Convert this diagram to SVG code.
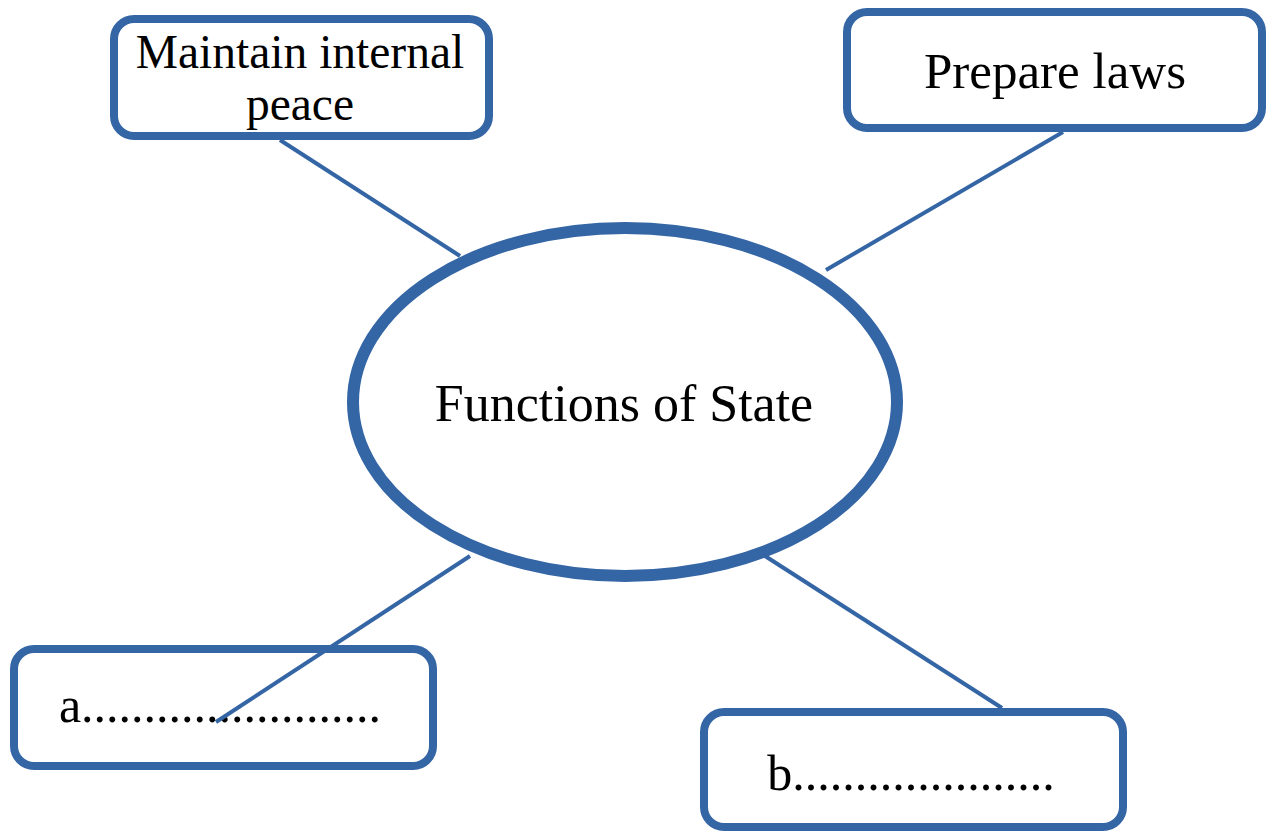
<svg xmlns="http://www.w3.org/2000/svg" width="1267" height="831" viewBox="0 0 1267 831">
  <style>
    .box { fill: #ffffff; stroke: #3465a4; stroke-width: 8; }
    .hub { fill: #ffffff; stroke: #3465a4; stroke-width: 12; }
    .link { stroke: #3465a4; stroke-width: 4; fill: none; }
    .lbl { font-family: "Liberation Serif", "Times New Roman", serif; fill: #000000; text-anchor: middle; }
  </style>
  <rect width="1267" height="831" fill="#ffffff"/>

  <!-- central topic -->
  <g id="hub">
    <ellipse class="hub" cx="625" cy="402" rx="272" ry="174"/>
    <text class="lbl" x="624" y="421" font-size="52">Functions of State</text>
  </g>

  <!-- spokes -->
  <g id="connectors">
    <line class="link" x1="280" y1="140" x2="460" y2="256"/>
    <line class="link" x1="1063" y1="132" x2="826" y2="270"/>
    <line class="link" x1="765" y1="556" x2="1002" y2="708"/>
  </g>

  <g id="node-peace">
    <rect class="box" x="114" y="19" width="375" height="117" rx="20"/>
    <text class="lbl" x="300" y="68" font-size="47.5">Maintain internal</text>
    <text class="lbl" x="300" y="120" font-size="47.5">peace</text>
  </g>

  <g id="node-laws">
    <rect class="box" x="847" y="12" width="415" height="116" rx="20"/>
    <text class="lbl" x="1055" y="88" font-size="51">Prepare laws</text>
  </g>

  <g id="node-a">
    <rect class="box" x="14" y="649" width="419" height="117" rx="20"/>
    <text class="lbl" x="220" y="722" font-size="50">a........................</text>
  </g>

  <g id="node-b">
    <rect class="box" x="704" y="712" width="419" height="115" rx="20"/>
    <text class="lbl" x="911" y="790" font-size="50">b.....................</text>
  </g>

  <!-- the lower-left spoke runs over its box -->
  <g id="connectors-front">
    <line class="link" x1="470" y1="556" x2="216" y2="722"/>
  </g>
</svg>
